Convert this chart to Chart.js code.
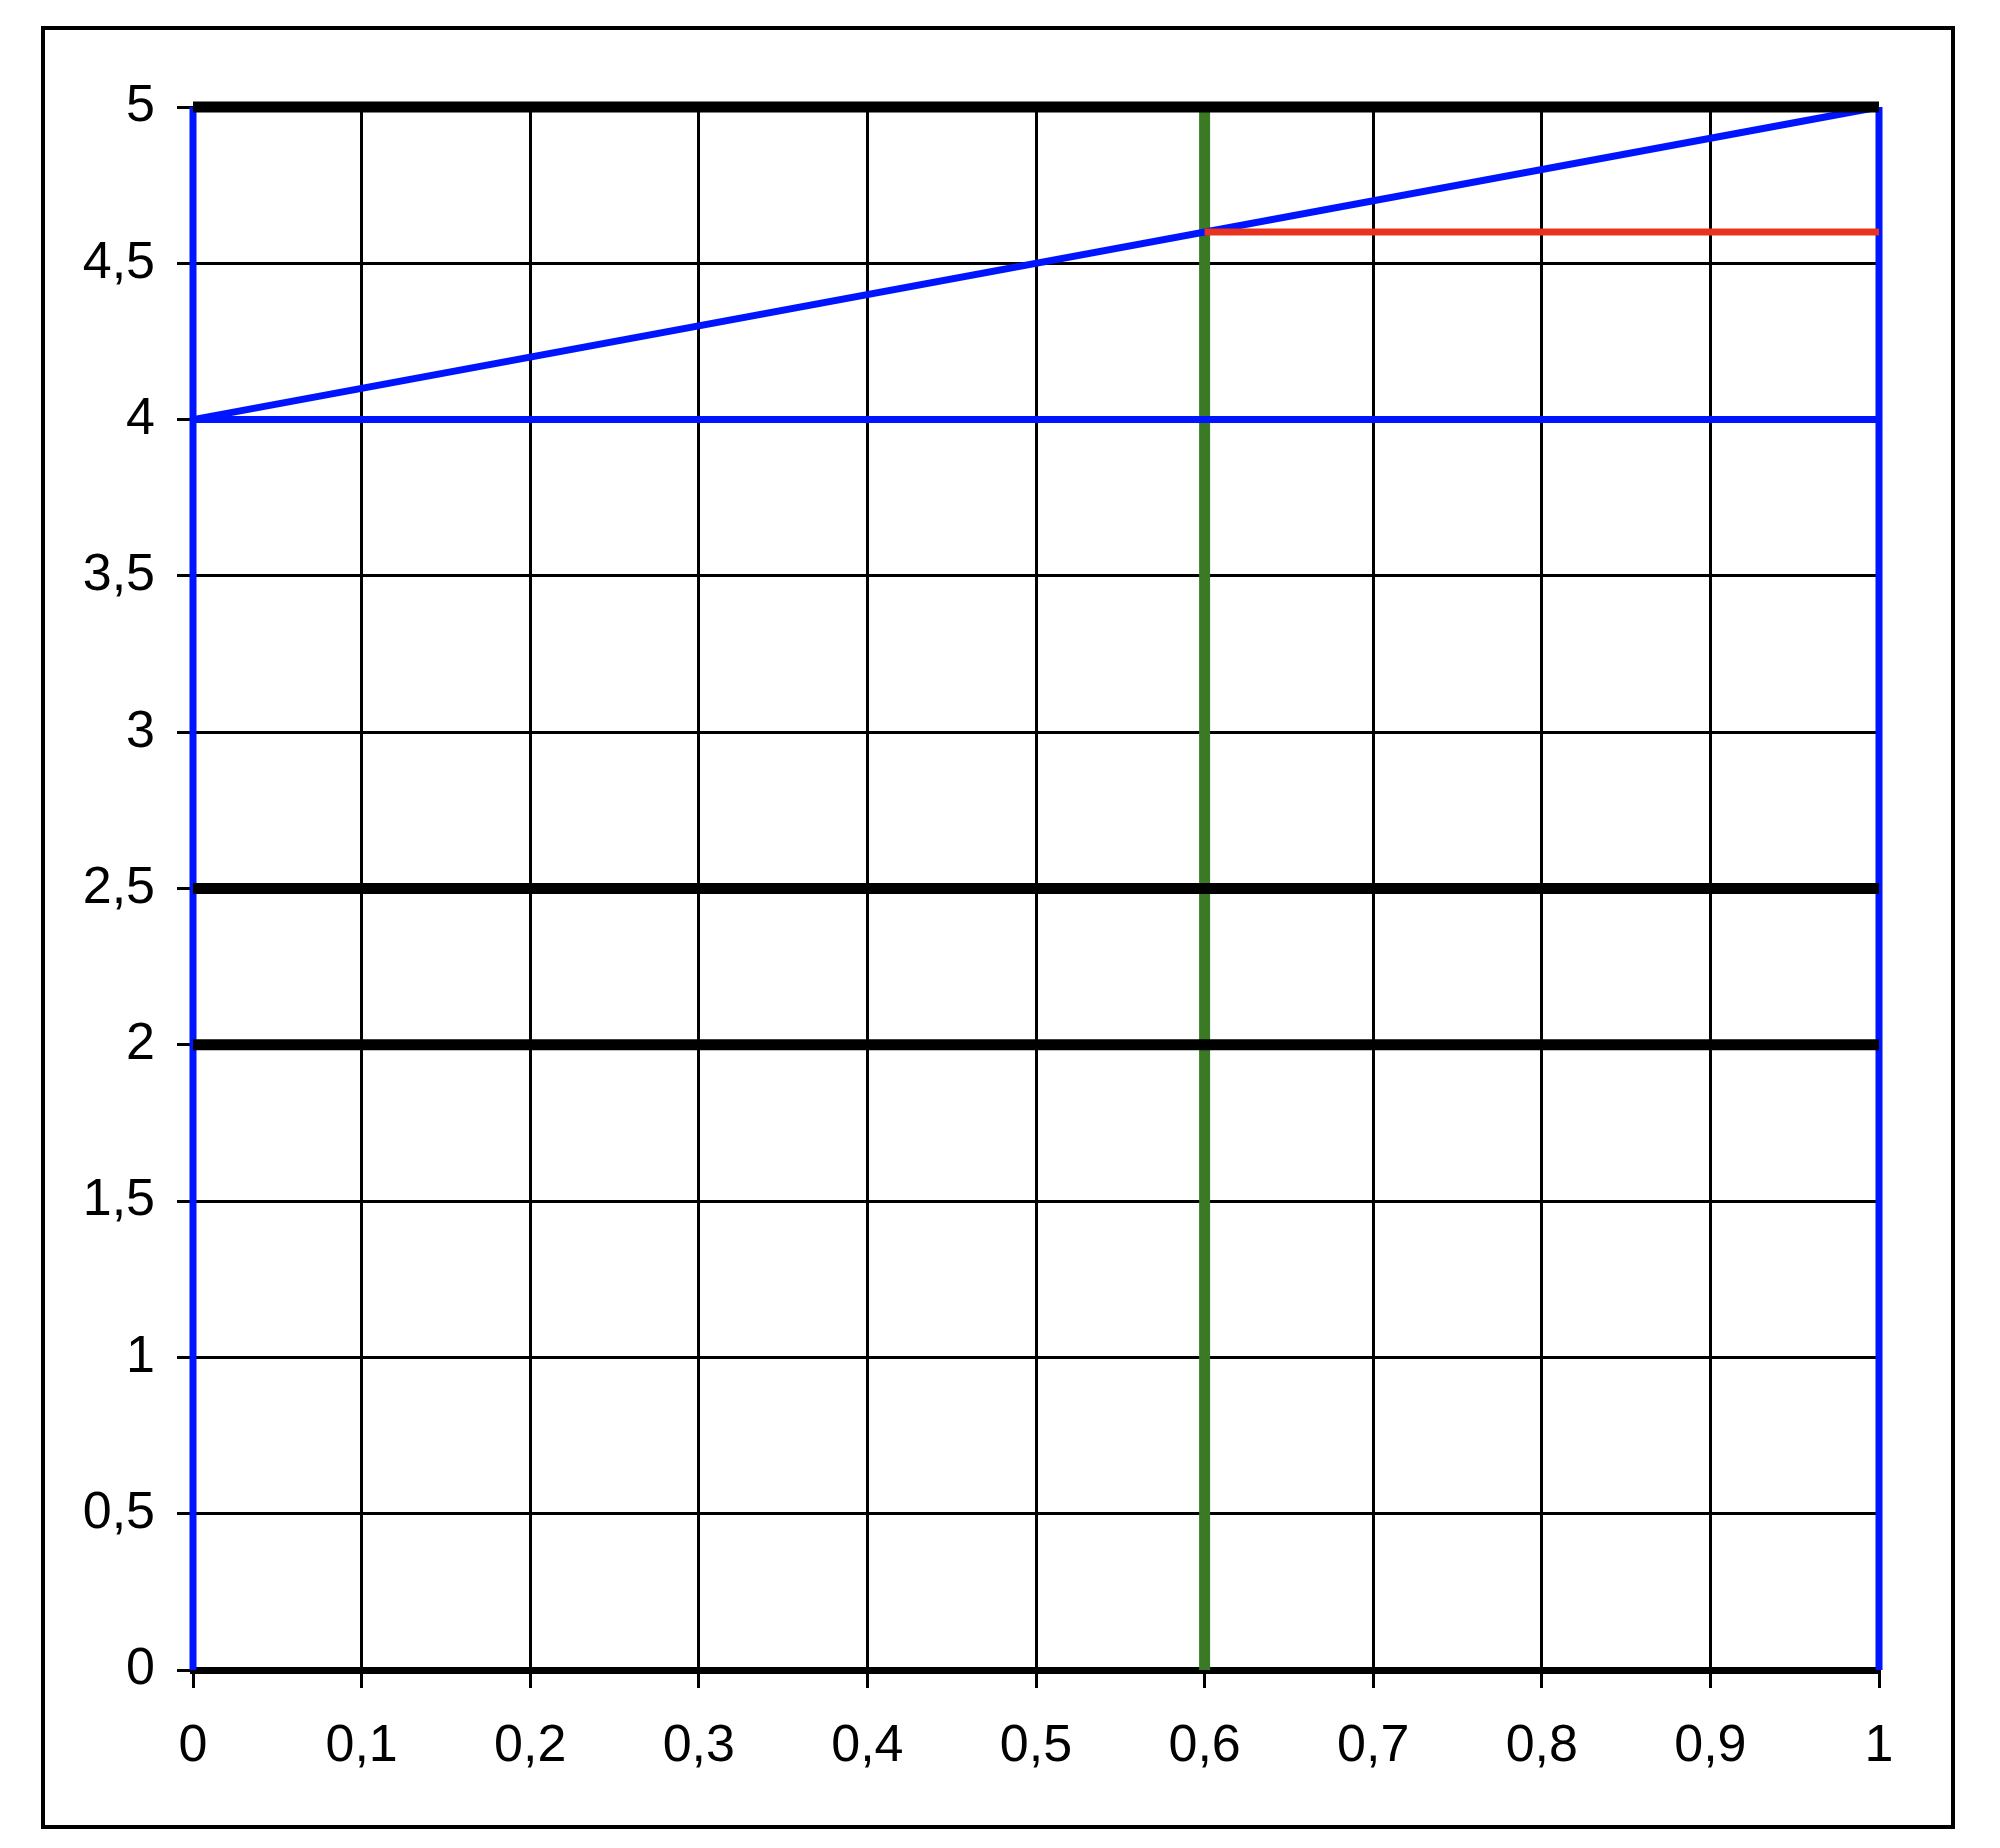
<!DOCTYPE html>
<html>
<head>
<meta charset="utf-8">
<script src="https://cdn.jsdelivr.net/npm/chart.js@4"></script>
<style>
	html, body { margin: 0; padding: 0; background: #fff; }
	#wrap { position: relative; width: 2000px; height: 1848px; }
	#frame { position: absolute; left: 41px; top: 26px; width: 1914px; height: 1803px; box-sizing: border-box; border: 4px solid #000; }
	#chart { position: absolute; left: 0; top: 0; }
</style>
</head>
<body>
<div id="wrap">
	<div id="frame"></div>
	<canvas id="chart" width="2000" height="1848"></canvas>
</div>
<script>
// axis tick labels (decimal comma)
var xTickLabels = ["0", "0,1", "0,2", "0,3", "0,4", "0,5", "0,6", "0,7", "0,8", "0,9", "1"];
var yTickLabels = ["0", "0,5", "1", "1,5", "2", "2,5", "3", "3,5", "4", "4,5", "5"];

// blue outline: left edge, right edge, base at 4 and the slope from 4 to 5
var leftEdgeX = [0, 0],  leftEdgeY = [0, 5];
var rightEdgeX = [1, 1], rightEdgeY = [0, 5];
var baseX = [0, 1],      baseY = [4, 4];
var slopeX = [0, 1],     slopeY = [4, 5];

// green cut at x = 0.6 and red level from there to 1
var cutX = [0.6, 0.6],   cutY = [0, 5];
var levelX = [0.6, 1],   levelY = [4.6, 4.6];

// thick black horizontal levels across the whole width
var blackLevels = [5, 2.5, 2];
var blackSpanX = [0, 1];

function pts(xs, ys){
	return xs.map(function(x, i){ return {x: x, y: ys[i]}; });
}

function line(xs, ys, color, width, order){
	return {
		data: pts(xs, ys),
		showLine: true,
		borderColor: color,
		backgroundColor: color,
		borderWidth: width,
		pointRadius: 0,
		pointHoverRadius: 0,
		borderCapStyle: 'butt',
		fill: false,
		clip: false,
		order: order
	};
}

var BLUE = "#0015ff";
var GREEN = "#3a7a24";
var RED = "#e8341e";

var datasets = [];
blackLevels.forEach(function(v){
	datasets.push(line(blackSpanX, [v, v], "#000", 11, 0));
});
datasets.push(line(levelX, levelY, RED, 7, 1));
datasets.push(line(leftEdgeX, leftEdgeY, BLUE, 7, 2));
datasets.push(line(rightEdgeX, rightEdgeY, BLUE, 7, 2));
datasets.push(line(baseX, baseY, BLUE, 7, 2));
datasets.push(line(slopeX, slopeY, BLUE, 7, 2));
datasets.push(line(cutX, cutY, GREEN, 11, 3));

var font = {family: "'Liberation Sans', Arial, sans-serif", size: 52};

var ctx = document.getElementById("chart").getContext("2d");
var chart = new Chart(ctx, {
	type: 'scatter',
	data: {datasets: datasets},
	options: {
		responsive: false,
		animation: false,
		events: [],
		layout: {padding: {left: 0, right: 121, top: 107, bottom: 78}},
		plugins: {legend: {display: false}, tooltip: {enabled: false}},
		scales: {
			x: {
				type: 'linear',
				min: 0,
				max: 1,
				afterFit: function(axis){ axis.height = 100; },
				afterBuildTicks: function(axis){
					axis.ticks = xTickLabels.map(function(l, i){ return {value: i / 10}; });
				},
				ticks: {
					color: "#000",
					font: font,
					padding: 27,
					maxRotation: 0,
					autoSkip: false,
					callback: function(v, i){ return xTickLabels[i]; }
				},
				grid: {color: "#000", lineWidth: 3, tickLength: 18, tickWidth: 3, tickColor: "#000"},
				border: {color: "#000", width: 7}
			},
			y: {
				type: 'linear',
				min: 0,
				max: 5,
				afterFit: function(axis){ axis.width = 193; },
				afterBuildTicks: function(axis){
					axis.ticks = yTickLabels.map(function(l, i){ return {value: i / 2}; });
				},
				ticks: {
					color: "#000",
					font: font,
					padding: 22,
					autoSkip: false,
					callback: function(v, i){ return yTickLabels[i]; }
				},
				grid: {color: "#000", lineWidth: 3, tickLength: 16, tickWidth: 3, tickColor: "#000"},
				border: {color: "#000", width: 3}
			}
		}
	}
});
</script>
</body>
</html>
